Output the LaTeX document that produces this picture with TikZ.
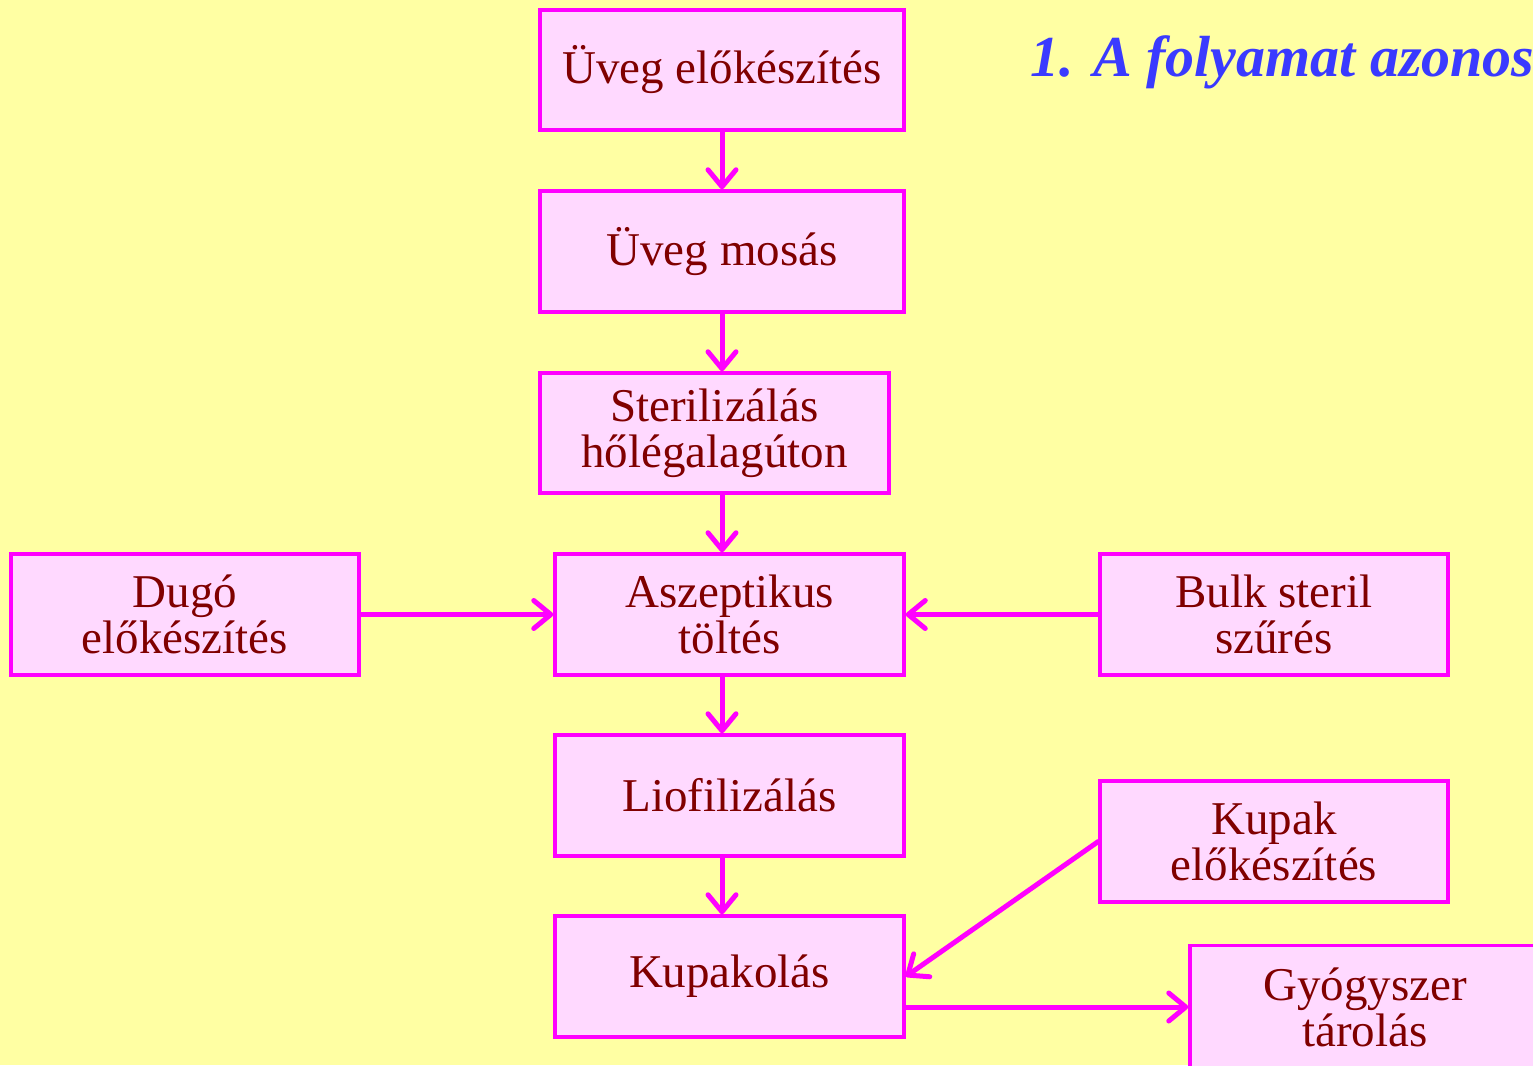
\documentclass[tikz,border=0pt]{standalone}
\usepackage{fontspec}
\setmainfont{Liberation Serif}
\usetikzlibrary{arrows.meta}
\definecolor{bgyellow}{RGB}{255,255,163}
\definecolor{boxfill}{RGB}{255,217,255}
\definecolor{boxline}{RGB}{255,0,255}
\definecolor{txtred}{RGB}{128,0,0}
\definecolor{titleblue}{RGB}{58,58,255}
\tikzset{
  stepbox/.style={draw=boxline, fill=boxfill, line width=3.5pt, align=center,
    text=txtred, font=\fontsize{47}{46}\selectfont, inner sep=0pt},
  flow/.style={draw=boxline, line width=5pt, line cap=round,
    -{Straight Barb[length=17pt,width=28pt,line cap=round,line join=round]}},
}
\begin{document}
\begin{tikzpicture}[x=1pt,y=-1pt]
  \useasboundingbox (0,0) rectangle (1533,1065);
  \clip (0,0) rectangle (1533,1065);
  \fill[bgyellow] (0,0) rectangle (1533,1065);

  % main line
  \node[stepbox, minimum width=364, minimum height=120] (uveg)  at (722,70)    {Üveg előkészítés};
  \node[stepbox, minimum width=364, minimum height=121] (mosas) at (722,251.5) {Üveg mosás};
  \node[stepbox, minimum width=349, minimum height=120] (steril) at (714.5,433) {Sterilizálás\\hőlégalagúton};
  \node[stepbox, minimum width=349, minimum height=121] (toltes) at (729.5,614.5) {Aszeptikus\\töltés};
  \node[stepbox, minimum width=349, minimum height=121] (lio)    at (729.5,795.5) {Liofilizálás};
  \node[stepbox, minimum width=349, minimum height=121] (kupako) at (729.5,976.5) {Kupakolás};

  % side inputs and output
  \node[stepbox, minimum width=348, minimum height=121] (dugo)  at (185,614.5)  {Dugó\\előkészítés};
  \node[stepbox, minimum width=348, minimum height=121] (bulk)  at (1274,614.5) {Bulk steril\\szűrés};
  \node[stepbox, minimum width=348, minimum height=121] (kupak) at (1274,841.5) {Kupak\\előkészítés};
  \node[stepbox, minimum width=350, minimum height=123] (tarol) at (1365,1007)  {Gyógyszer\\tárolás};

  % title
  \node[anchor=base west, inner sep=0pt, text=titleblue,
        font=\fontsize{58}{58}\selectfont\bfseries\itshape] (title) at (1030,77) {1. A folyamat azonos};

  % connectors
  \draw[flow] (uveg.south) -- (mosas.north);
  \draw[flow] (mosas.south) -- (steril.north -| mosas.south);
  \draw[flow] (steril.south -| mosas.south) -- (toltes.north -| mosas.south);
  \draw[flow] (toltes.south -| mosas.south) -- (lio.north -| mosas.south);
  \draw[flow] (lio.south -| mosas.south) -- (kupako.north -| mosas.south);
  \draw[flow] (dugo.east) -- (toltes.west);
  \draw[flow] (bulk.west) -- (toltes.east);
  \draw[flow] (kupak.west) -- (kupako.east);
  \draw[flow] (kupako.east |- tarol.west) -- (tarol.west);
\end{tikzpicture}
\end{document}
